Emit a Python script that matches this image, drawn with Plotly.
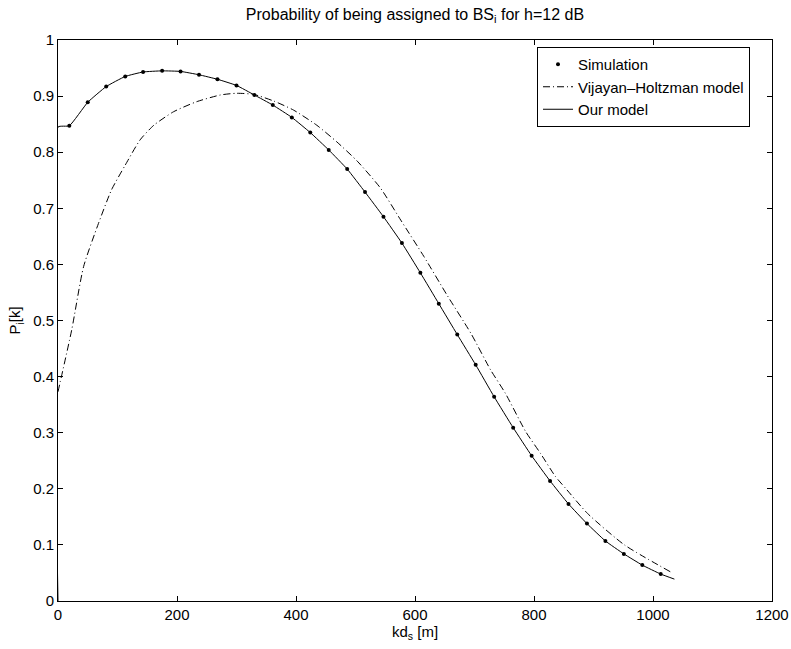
import plotly.graph_objects as go

# Simulation points
sim_x = [19, 50, 81, 113, 143, 175, 206, 237, 268, 300, 330, 361, 393, 424, 455, 486, 516,
         547, 578, 609, 640, 671, 702, 733, 765, 796, 827, 858, 889, 920, 951, 982, 1013]
sim_y = [0.847, 0.889, 0.917, 0.935, 0.943, 0.945, 0.944, 0.938, 0.930, 0.919, 0.902, 0.884,
         0.862, 0.835, 0.804, 0.770, 0.729, 0.685, 0.638, 0.585, 0.530, 0.475, 0.421, 0.364,
         0.309, 0.259, 0.214, 0.173, 0.138, 0.107, 0.084, 0.064, 0.048]

# Our model (line)
our_x = [0, 0] + sim_x + [1036]
our_y = [0.0, 0.845] + sim_y + [0.039]

# Vijayan-Holtzman model
vh_x = [0, 23, 43, 68, 90, 113, 138, 161, 194, 233, 273, 300, 329, 363, 396, 435, 469, 503,
        542, 576, 615, 654, 694, 727, 752, 786, 811, 836, 853, 890, 952, 1031]
vh_y = [0.373, 0.483, 0.596, 0.673, 0.733, 0.777, 0.822, 0.848, 0.872, 0.890, 0.902, 0.905,
        0.903, 0.891, 0.875, 0.848, 0.818, 0.784, 0.736, 0.679, 0.614, 0.545, 0.477, 0.412,
        0.370, 0.302, 0.263, 0.222, 0.201, 0.156, 0.100, 0.051]

x_ticks = [0, 200, 400, 600, 800, 1000, 1200]
y_ticks = [0, 0.1, 0.2, 0.3, 0.4, 0.5, 0.6, 0.7, 0.8, 0.9, 1]
y_tick_labels = ["0", "0.1", "0.2", "0.3", "0.4", "0.5", "0.6", "0.7", "0.8", "0.9", "1"]

FONT = "Liberation Sans, Arial, Helvetica, sans-serif"

W, H = 791, 649
L, R, T, B = 58, 19, 40, 48
PL, PR, PT, PB = L, W - R, T, H - B

fig = go.Figure()
fig.add_trace(go.Scatter(x=sim_x, y=sim_y, mode="markers", name="Simulation",
                         marker=dict(color="black", size=4)))
fig.add_trace(go.Scatter(x=vh_x, y=vh_y, mode="lines", name="Vijayan\u2013Holtzman model",
                         line=dict(color="black", width=1, dash="7px,3px,1px,3px", shape="spline", smoothing=0.6)))
fig.add_trace(go.Scatter(x=our_x, y=our_y, mode="lines", name="Our model",
                         line=dict(color="black", width=1, shape="spline", smoothing=0.4)))

axis_common = dict(showline=True, linecolor="black", linewidth=1, mirror="allticks",
                   ticks="inside", ticklen=5, tickcolor="black", showgrid=False,
                   zeroline=False, automargin=False,
                   tickfont=dict(family=FONT, size=15, color="black"))

fig.update_layout(
    width=W, height=H,
    margin=dict(l=L, r=R, t=T, b=B, autoexpand=False),
    paper_bgcolor="white", plot_bgcolor="white",
    font=dict(family=FONT, color="black"),
    title=dict(text="Probability of being assigned to BS<sub>i</sub> for h=12 dB",
               x=(PL + PR) / 2 / W, xanchor="center", y=1 - 14 / H, yanchor="middle",
               font=dict(family=FONT, size=16, color="black")),
    xaxis=dict(range=[0, 1200], tickvals=x_ticks, ticktext=[str(v) for v in x_ticks],
               title=dict(text="kd<sub>s</sub> [m]", font=dict(family=FONT, size=15), standoff=0),
               **axis_common),
    yaxis=dict(range=[0, 1], tickvals=y_ticks, ticktext=y_tick_labels,
               title=dict(text="P<sub>i</sub>[k]", font=dict(family=FONT, size=15), standoff=8),
               **axis_common),
    showlegend=True,
    legend=dict(x=(537 - PL) / (PR - PL), y=(PB - 47) / (PB - PT), xanchor="left", yanchor="top",
                bordercolor="black", borderwidth=1, bgcolor="white",
                font=dict(family=FONT, size=15, color="black"),
                tracegroupgap=0, itemwidth=30),
)

fig.write_html("out.html",
               config={"displayModeBar": False},
               post_script="document.body.style.margin='0px';document.body.style.overflow='hidden';")
